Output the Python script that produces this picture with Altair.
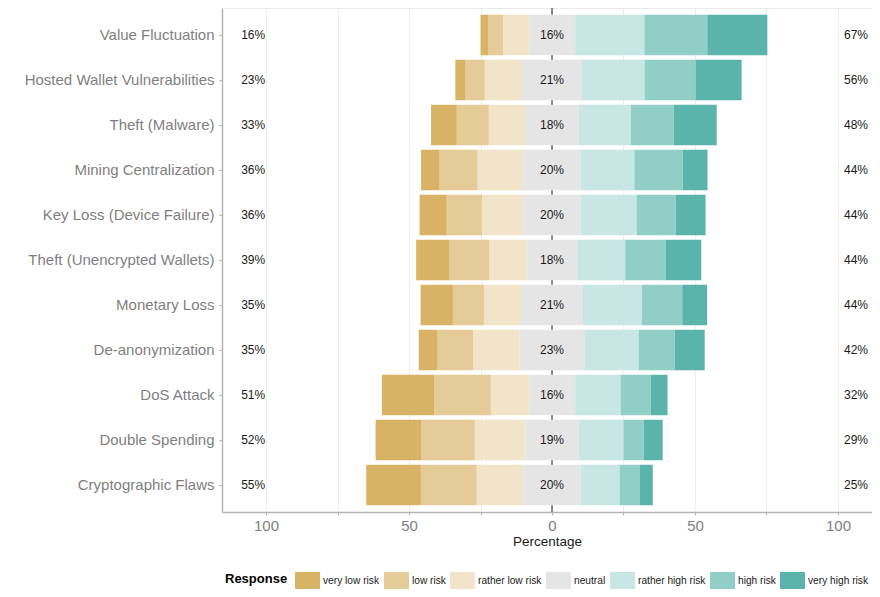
import altair as alt
import pandas as pd

items = [
    "Value Fluctuation", "Hosted Wallet Vulnerabilities", "Theft (Malware)",
    "Mining Centralization", "Key Loss (Device Failure)", "Theft (Unencrypted Wallets)",
    "Monetary Loss", "De-anonymization", "DoS Attack", "Double Spending",
    "Cryptographic Flaws",
]
levels = ["very low risk", "low risk", "rather low risk", "neutral",
          "rather high risk", "high risk", "very high risk"]
colors = ["#D8B365", "#E5CB97", "#F2E4C9", "#E5E5E5", "#C8E6E4", "#91CEC5", "#5AB4AC"]

very_low = [2.8, 3.6, 9.0, 6.5, 9.5, 11.7, 11.3, 6.6, 18.3, 15.9, 19.1]
low = [5.1, 6.7, 11.2, 13.3, 12.3, 13.9, 10.9, 12.4, 19.8, 18.8, 19.5]
rather_low = [9.0, 13.0, 12.7, 16.0, 14.5, 13.0, 12.9, 16.3, 13.3, 17.7, 16.3]
neutral = [16.2, 21.0, 18.8, 20.0, 20.0, 17.8, 21.7, 22.6, 16.2, 18.6, 20.1]
rather_high = [24.2, 21.9, 18.2, 18.8, 19.6, 16.7, 20.6, 19.0, 15.9, 15.7, 13.6]
high = [22.0, 17.8, 15.0, 16.9, 13.7, 14.1, 14.1, 12.6, 10.5, 7.1, 7.1]
very_high = [21.0, 16.1, 15.0, 8.7, 10.4, 12.5, 8.7, 10.5, 5.9, 6.6, 4.5]

low_labels = [16, 23, 33, 36, 36, 39, 35, 35, 51, 52, 55]
neutral_labels = [16, 21, 18, 20, 20, 18, 21, 23, 16, 19, 20]
high_labels = [67, 56, 48, 44, 44, 44, 44, 42, 32, 29, 25]

axis_values = [-100, -75, -50, -25, 0, 25, 50, 75, 100]

W, H = 650, 504

# build stacked diverging segments
rows = []
for i, it in enumerate(items):
    half = neutral[i] / 2
    rows.append(dict(item=it, level="neutral", x=-half, x2=half))
    edge = -half
    for lev, arr in [("rather low risk", rather_low), ("low risk", low), ("very low risk", very_low)]:
        rows.append(dict(item=it, level=lev, x=edge - arr[i], x2=edge))
        edge -= arr[i]
    edge = half
    for lev, arr in [("rather high risk", rather_high), ("high risk", high), ("very high risk", very_high)]:
        rows.append(dict(item=it, level=lev, x=edge, x2=edge + arr[i]))
        edge += arr[i]
bars_df = pd.DataFrame(rows)

LEFT_POS, RIGHT_POS = -104.5, 106.3
trows = []
for i, it in enumerate(items):
    trows.append(dict(item=it, pos=LEFT_POS, label=f"{low_labels[i]}%"))
    trows.append(dict(item=it, pos=0, label=f"{neutral_labels[i]}%"))
    trows.append(dict(item=it, pos=RIGHT_POS, label=f"{high_labels[i]}%"))
text_df = pd.DataFrame(trows)

xscale = alt.Scale(domain=[-115.4, 111.9], nice=False, zero=False)
yscale = alt.Scale(domain=items, paddingInner=0.1, paddingOuter=0.15)

xaxis = alt.Axis(
    values=axis_values,
    labelExpr="abs(datum.value) % 50 == 0 ? format(abs(datum.value), 'd') : ''",
    title="Percentage", titleFontSize=13.5, titleFontWeight="normal", titleColor="#1a1a1a",
    titlePadding=1,
    labelFontSize=15, labelColor="#7F7F7F", labelPadding=3,
    grid=True, gridColor="#EEEEEE", gridWidth=1,
    domainColor="#B5B5B5", domainWidth=1.5,
    tickColor="#B5B5B5", tickSize=3,
)
yaxis = alt.Axis(
    title=None, labelFontSize=15, labelColor="#7F7F7F", labelPadding=5,
    domainColor="#B5B5B5", domainWidth=1.5, tickColor="#B5B5B5", tickSize=3,
    grid=False, labelLimit=300,
)

frame_top = alt.Chart(pd.DataFrame({"a": [0]})).mark_rule(color="#D6D6D6", strokeWidth=1).encode(
    x=alt.value(0), x2=alt.value(W), y=alt.value(0)
)

zero = alt.Chart(pd.DataFrame({"z": [0]})).mark_rule(color="#666666", strokeWidth=1.5).encode(
    x=alt.X("z:Q", scale=xscale, axis=xaxis)
)

bars = alt.Chart(bars_df).mark_bar().encode(
    x=alt.X("x:Q", scale=xscale, axis=xaxis),
    x2="x2:Q",
    y=alt.Y("item:N", scale=yscale, axis=yaxis, sort=items),
    color=alt.Color(
        "level:N",
        scale=alt.Scale(domain=levels, range=colors),
        legend=alt.Legend(
            title="Response", orient="none", legendX=3, legendY=560,
            direction="horizontal", titleOrient="left", titleAnchor="middle",
            titleBaseline="middle",
            titleFontSize=13, titleFontWeight="bold", titleColor="#000000", titlePadding=7,
            symbolType="M-1,-0.68H1V0.68H-1Z", symbolSize=625, symbolStrokeWidth=0,
            symbolOpacity=1,
            labelFontSize=10.2, labelColor="#1a1a1a", labelOffset=3,
            columnPadding=4, padding=0,
        ),
    ),
)

texts = alt.Chart(text_df).mark_text(fontSize=12, color="#1a1a1a").encode(
    x=alt.X("pos:Q", scale=xscale, axis=xaxis),
    y=alt.Y("item:N", scale=yscale, axis=yaxis, sort=items),
    text="label:N",
)

chart = alt.layer(frame_top, zero, bars, texts).properties(
    width=W, height=H,
    autosize=alt.AutoSizeParams(type="none"),
    padding={"left": 214, "top": 0, "right": 0, "bottom": 77},
).configure(
    font="Liberation Sans",
).configure_view(
    stroke=None,
)

chart.save("out.html", embed_options={"renderer": "svg", "actions": False})
